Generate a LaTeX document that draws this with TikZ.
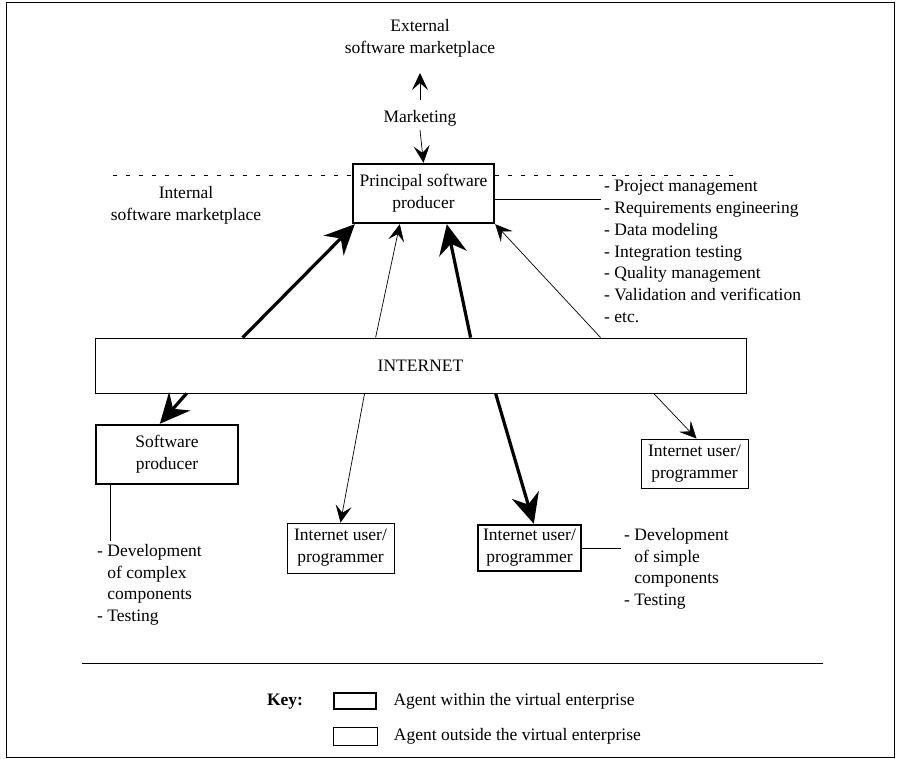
\documentclass[tikz,border=0pt]{standalone}
\usepackage{fontspec}
\setmainfont{Liberation Serif}
\usetikzlibrary{arrows.meta}
\usetikzlibrary{calc}

\begin{document}
\begin{tikzpicture}[x=1pt,y=-1pt,font=\fontsize{17.5}{21.8}\selectfont,
    agentin/.style={draw, line width=2.4pt, align=center, inner sep=0pt},
    agentout/.style={draw, line width=0.8pt, align=center, inner sep=0pt},
    listtext/.style={align=left, inner sep=3pt},
    thickarrow/.style={line width=3.2pt, -{Stealth[length=30pt,width=28pt,inset=10pt]}},
    thinarrow/.style={line width=0.7pt, -{Stealth[length=17pt,width=16pt,inset=7pt]}},
    dashline/.style={line width=0.6pt, dash pattern=on 4pt off 9pt}]

    \useasboundingbox (0,0) rectangle (897,759);
    \draw[line width=1pt] (6,3) rectangle (894,757);

    \node[agentin, minimum width=141, minimum height=59] (prin) at (423.5,193.5) {Principal software\\producer};
    \node[align=center, inner sep=0pt] (ext) at (420,38) {External\\software marketplace};
    \node[inner sep=0pt] (market) at (420,118) {Marketing};
    \node[align=center, inner sep=0pt] (intmkt) at (186,205) {Internal\\software marketplace};

    \coordinate (dl) at (113,175);
    \coordinate (dr) at (740,175);
    \draw[dashline] (dl) -- (dl -| prin.west);
    \draw[dashline] (prin.east |- dr) -- (dr);

    \draw[thinarrow] ([yshift=10pt]market.north) -- ([yshift=-16pt]ext.south);
    \draw[thinarrow] ([yshift=-4pt]market.south) -- (prin.north);

    \node[listtext, anchor=north west] (prinlist) at (601,177)
      {- Project management\\- Requirements engineering\\- Data modeling\\- Integration testing\\- Quality management\\- Validation and verification\\- etc.};
    \draw[line width=0.6pt] ([yshift=-5.5pt]prin.east) -- ([yshift=-5.5pt]prin.east -| prinlist.west);

    \node[agentout, minimum width=651, minimum height=55] (net) at (420.5,365.5) {INTERNET};
    \node[agentin, minimum width=142, minimum height=59] (sp) at (167,454.5) {Software\\producer};
    \node[agentout, minimum width=107, minimum height=50] (iua) at (340.5,548) {Internet user/\\programmer};
    \node[agentin, minimum width=103, minimum height=46] (iub) at (529.5,548) {Internet user/\\programmer};
    \node[agentout, minimum width=107, minimum height=49] (iuc) at (694.5,463.5) {Internet user/\\programmer};

    \draw[thickarrow] ([xshift=148pt]net.north west) -- ([xshift=3pt]prin.south west);
    \draw[thinarrow] ([xshift=281pt]net.north west) -- ([xshift=48pt]prin.south west);
    \draw[thickarrow] ([xshift=376pt]net.north west) -- ([xshift=95pt]prin.south west);
    \draw[thinarrow] ([xshift=506pt]net.north west) -- (prin.south east);

    \draw[thickarrow] ([xshift=92pt]net.south west) -- ([xshift=65pt]sp.north west);
    \draw[thinarrow] ([xshift=270pt]net.south west) -- (iua.north);
    \draw[thickarrow] ([xshift=401pt]net.south west) -- ([xshift=57pt]iub.north west);
    \draw[thinarrow] ([xshift=559pt]net.south west) -- ([xshift=56pt]iuc.north west);

    \node[listtext, anchor=north west] (splist) at (94,541)
      {- Development\\\hphantom{- }of complex\\\hphantom{- }components\\- Testing};
    \draw[line width=0.6pt] ([xshift=15pt]sp.south west) -- ([xshift=15pt]sp.south west |- splist.north);

    \node[listtext, anchor=north west] (iublist) at (621,525)
      {- Development\\\hphantom{- }of simple\\\hphantom{- }components\\- Testing};
    \draw[line width=0.6pt] (iub.east) -- (iub.east -| iublist.west);

    \draw[line width=1pt] (82,663) -- (823,663);

    \node (key) at (285,702) {\bfseries Key:};
    \node[agentin, line width=2pt, minimum width=42, minimum height=16] (keyin) at (355,701) {};
    \node[agentout, minimum width=44, minimum height=18] (keyout) at (355,736) {};
    \node[anchor=west] (keyintxt) at ([xshift=13pt]keyin.east) {Agent within the virtual enterprise};
    \node[anchor=west] (keyouttxt) at ([xshift=13pt]keyout.east) {Agent outside the virtual enterprise};
  \end{tikzpicture}
\end{document}
